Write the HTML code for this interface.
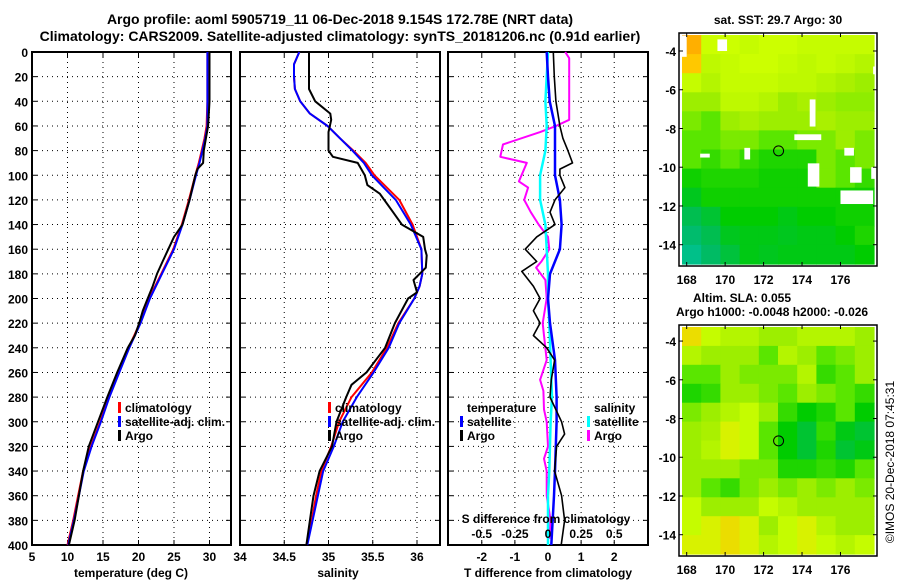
<!DOCTYPE html>
<html><head><meta charset="utf-8"><style>
html,body{margin:0;padding:0;background:#fff;}
svg{display:block;font-family:"Liberation Sans",Arial,sans-serif;font-weight:bold;}
</style></head><body>
<svg id="fig" width="900" height="580" viewBox="0 0 900 580" xmlns="http://www.w3.org/2000/svg">
<text x="340" y="24" font-size="14" text-anchor="middle">Argo profile: aoml 5905719_11 06-Dec-2018 9.154S 172.78E (NRT data)</text>
<text x="340" y="41" font-size="14" text-anchor="middle">Climatology: CARS2009. Satellite-adjusted climatology: synTS_20181206.nc (0.91d earlier)</text>
<g id="plots"></g>
<text x="778" y="24" font-size="12" text-anchor="middle">sat. SST: 29.7 Argo: 30</text>
<text x="693" y="302" font-size="12">Altim. SLA: 0.055</text>
<text x="676" y="316" font-size="12">Argo h1000: -0.0048 h2000: -0.026</text>
<text transform="translate(894,462) rotate(-90)" font-size="12" font-weight="normal" text-anchor="middle">©IMOS 20-Dec-2018 07:45:31</text>
</svg>
<script>
// ---- profile data ----
const depthT = [0,20,40,60,70,80,90,100,120,140,160,180,200,220,240,260,280,300,320,340,360,380,400];
const climT = [29.7,29.7,29.7,29.6,29.3,28.9,28.5,28.0,27.1,26.1,24.9,23.2,21.5,20.2,18.6,17.2,15.8,14.6,13.3,12.2,11.5,10.8,10.0];
const satT = [29.7,29.7,29.7,29.7,29.4,29.0,28.6,28.1,27.2,26.2,25.0,23.3,21.6,20.3,18.7,17.3,15.9,14.7,13.4,12.3,11.6,10.9,10.1];
const argoTDepth = [0,20,40,60,70,80,90,95,100,120,140,150,160,170,180,190,200,210,220,230,240,260,280,300,320,340,360,380,400];
const argoT = [30.0,30.0,30.0,29.8,29.5,29.2,29.1,28.3,28.0,27.2,26.2,25.0,24.2,23.4,22.6,22.0,21.3,20.6,20.1,19.5,18.5,17.0,15.6,14.3,13.0,12.2,11.6,11.0,10.2];
const salDepth = [0,10,20,30,40,50,60,70,80,90,100,120,140,160,180,190,200,220,240,260,280,300,320,340,360,380,400];
const climS = [34.67,34.61,34.61,34.62,34.68,34.79,34.99,35.13,35.28,35.42,35.52,35.80,35.95,36.05,36.06,36.03,35.97,35.79,35.66,35.49,35.26,35.12,35.03,34.92,34.86,34.81,34.75];
const satS = [34.67,34.61,34.61,34.62,34.68,34.79,34.99,35.13,35.27,35.40,35.49,35.76,35.93,36.05,36.06,36.03,35.97,35.80,35.68,35.51,35.32,35.16,35.06,34.94,34.88,34.82,34.76];
const argoSDepth = [0,30,40,50,55,65,80,85,90,100,108,115,130,140,150,160,165,175,185,195,200,220,240,260,270,280,300,320,340,360,380,400];
const argoS = [34.78,34.78,34.85,35.02,35.03,35.0,35.0,35.05,35.33,35.41,35.44,35.58,35.73,35.83,36.07,36.09,36.11,36.1,35.96,36.0,35.9,35.75,35.64,35.43,35.26,35.2,35.09,35.04,34.9,34.83,34.79,34.75];
const diffDepth = [0,20,40,60,70,80,90,95,100,110,120,130,140,150,160,170,178,190,200,210,220,230,240,250,266,280,300,310,320,340,360,380,400];
const argoTdiff = [0.16,0.19,0.24,0.36,0.45,0.6,0.74,0.36,0.36,0.51,0.21,0.06,0.21,-0.34,-0.69,-0.34,-0.79,-0.44,-0.24,-0.44,-0.24,-0.44,-0.04,0.2,0.1,0.06,0.41,0.5,0.26,0.2,0.41,0.5,0.4];
const sdiffDepth = [0,5,10,55,60,65,75,85,90,100,105,110,120,130,140,150,160,170,175,185,200,220,230,250,266,275,290,300,320,330,340,360,380,395];
const argoSdiff = [0.13,0.16,0.16,0.16,0.06,-0.06,-0.34,-0.36,-0.16,-0.2,-0.22,-0.15,-0.18,-0.13,-0.07,0,0.01,-0.05,-0.09,-0.02,-0.01,-0.04,-0.03,-0.01,-0.06,-0.035,-0.03,-0.01,0,-0.03,-0.01,-0.01,0.02,0.01];
const satDiffDepth = [0,20,40,60,80,100,120,140,160,180,200,220,250,280,300,340,360,400];
const satTdiff = [-0.04,0,0.05,0.21,0.21,0.21,0.36,0.41,0.36,0.06,0,0.06,0.21,0.26,0.26,0.21,0.18,0.1];
const satSdiff = [0,-0.01,-0.02,-0.01,-0.02,-0.06,-0.06,-0.02,-0.01,0,0,0.01,0.02,0.03,0.02,0.01,0,0];
const depthTicks = [0,20,40,60,80,100,120,140,160,180,200,220,240,260,280,300,320,340,360,380,400];
const tempTicks = [5,10,15,20,25,30];
const salTicks = [34,34.5,35,35.5,36];
const tdiffTicks = [-2,-1,0,1,2];
const sdiffTicks = [-0.5,-0.25,0,0.25,0.5];
const sdiffTickLabels = ["-0.5","-0.25","0","0.25","0.5"];

// ---- map data (values 0..1, null = missing) ----
const sstGrid = [
[0.9,0.72,0.72,0.7,0.72,0.72,0.7,0.7,0.7,0.7],
[0.85,0.68,0.7,0.72,0.72,0.7,0.68,0.7,0.68,0.65],
[0.7,0.65,0.7,0.7,0.7,0.68,0.68,0.65,0.62,0.6],
[0.6,0.6,0.68,0.68,0.65,0.6,0.62,0.6,0.58,0.58],
[0.55,0.5,0.6,0.62,0.6,0.6,0.6,0.62,0.6,0.6],
[0.5,0.5,0.55,0.55,0.5,0.5,0.55,0.55,0.6,0.55],
[0.5,0.45,0.5,0.45,0.42,0.42,0.42,0.55,0.5,0.55],
[0.4,0.42,0.42,0.42,0.4,0.4,0.4,0.55,0.5,0.45],
[0.35,0.4,0.4,0.4,0.4,0.4,0.4,0.4,0.4,0.4],
[0.3,0.33,0.38,0.38,0.38,0.36,0.38,0.38,0.4,0.4],
[0.27,0.3,0.35,0.36,0.36,0.35,0.36,0.36,0.38,0.42],
[0.24,0.28,0.32,0.36,0.35,0.36,0.36,0.36,0.36,0.38]];
const sstMissing = [[167.7,-3.2,168.0,-4.3],[169.6,-3.4,170.1,-4.0],[174.4,-6.5,174.7,-7.9],[173.6,-8.3,175.0,-8.6],[174.3,-9.8,174.9,-11.0],[176.5,-10.0,177.1,-10.8],[176.0,-11.2,177.7,-11.9],[168.7,-9.3,169.2,-9.5],[171.0,-9.0,171.3,-9.6],[177.6,-10.0,177.9,-10.6],[176.2,-9.0,176.7,-9.4],[177.7,-4.8,177.9,-5.2]];
const slaGrid = [
[0.8,0.7,0.65,0.65,0.6,0.6,0.65,0.65,0.65,0.6],
[0.65,0.6,0.6,0.6,0.5,0.65,0.6,0.5,0.55,0.6],
[0.5,0.5,0.6,0.55,0.55,0.55,0.65,0.45,0.5,0.6],
[0.42,0.45,0.6,0.6,0.55,0.5,0.6,0.55,0.5,0.45],
[0.55,0.6,0.65,0.7,0.6,0.45,0.38,0.42,0.5,0.38],
[0.6,0.62,0.75,0.7,0.5,0.38,0.33,0.45,0.36,0.33],
[0.6,0.65,0.75,0.7,0.5,0.38,0.33,0.42,0.33,0.36],
[0.6,0.6,0.6,0.55,0.55,0.42,0.42,0.45,0.42,0.5],
[0.6,0.5,0.45,0.55,0.6,0.55,0.6,0.55,0.6,0.55],
[0.7,0.6,0.6,0.6,0.7,0.65,0.6,0.6,0.6,0.6],
[0.7,0.75,0.8,0.75,0.6,0.7,0.75,0.65,0.6,0.6],
[0.75,0.75,0.8,0.75,0.65,0.7,0.75,0.7,0.65,0.7]];
const mapLonTicks = [168,170,172,174,176];
const mapLatTicks = [-4,-6,-8,-10,-12,-14];
const argoLon = 172.78, argoLat = -9.154;

const NS = "http://www.w3.org/2000/svg";
const root = document.getElementById('plots');
function mk(tag, attrs, parent){const e=document.createElementNS(NS,tag);for(const k in attrs)e.setAttribute(k,attrs[k]);(parent||root).appendChild(e);return e;}

const TOP=52, BOT=545;
const yD = d => TOP + d*(BOT-TOP)/400;
const panels = [
 {name:'temperature', x0:32, x1:231, v0:5, v1:33.03},
 {name:'salinity', x0:240, x1:440, v0:34, v1:36.26},
 {name:'difference', x0:448, x1:648, v0:-3.02, v1:3.02}
];
const sx = (p,v) => p.x0 + (v-p.v0)*(p.x1-p.x0)/(p.v1-p.v0);
const sxS = v => sx(panels[2], v*4);

function frame(p, gridVals){
  const g = mk('g',{});
  
  
  depthTicks.forEach(d=>{ if(d>0&&d<400){
    const l=mk('line',{x1:p.x0,x2:p.x1,y1:yD(d),y2:yD(d),stroke:'#000','stroke-width':1,'stroke-dasharray':'1 4'},g);
    
    
    mk('line',{x1:p.x0,x2:p.x0+5,y1:yD(d),y2:yD(d),stroke:'#000'},g);
    mk('line',{x1:p.x1-5,x2:p.x1,y1:yD(d),y2:yD(d),stroke:'#000'},g);
  }});
  gridVals.forEach(v=>{const x=sx(p,v); if(x>p.x0+1&&x<p.x1-1){
    const l=mk('line',{x1:x,x2:x,y1:TOP,y2:BOT,stroke:'#000','stroke-width':1,'stroke-dasharray':'1 4'},g);
    
    
    mk('line',{x1:x,x2:x,y1:BOT-5,y2:BOT,stroke:'#000'},g);
    mk('line',{x1:x,x2:x,y1:TOP,y2:TOP+5,stroke:'#000'},g);
  }});
  const r=mk('rect',{x:p.x0,y:TOP,width:p.x1-p.x0,height:BOT-TOP,fill:'none',stroke:'#000','stroke-width':2},g);
  
  
  return g;
}
function line(depths, vals, xf, color, name, w){
  const pts = depths.map((d,i)=>xf(vals[i]).toFixed(1)+','+yD(d).toFixed(1)).join(' ');
  const e = mk('polyline',{points:pts,fill:'none',stroke:color,'stroke-width':w||2,'stroke-linejoin':'round'});
  
  
}
function text(x,y,s,size,anchor,name){
  const t=mk('text',{x:x,y:y,'font-size':size||12,'text-anchor':anchor||'start'});
  t.textContent=s;
  
  
  return t;
}
function legendItem(x,y,color,label,name){
  mk('rect',{x:x,y:y-10,width:3,height:11,fill:color});
  text(x+7,y,label,12,'start',name);
}

// depth labels
depthTicks.forEach(d=>text(28,yD(d)+5,String(d),12,'end','depth-tick-label'));

// Panel 1
const p1=panels[0]; frame(p1,tempTicks);
line(depthT, climT, v=>sx(p1,v), '#ff0000','climatology-temperature-line');
line(depthT, satT, v=>sx(p1,v), '#0000ff','satellite-temperature-line');
line(argoTDepth, argoT, v=>sx(p1,v), '#000000','argo-temperature-line');
tempTicks.forEach(v=>text(sx(p1,v),561,String(v),12,'middle','temperature-tick-label'));
text(131,577,'temperature (deg C)',12,'middle','temperature-axis-title');
legendItem(118,412,'#ff0000','climatology','legend-climatology');
legendItem(118,426,'#0000ff','satellite-adj. clim.','legend-satellite-adj');
legendItem(118,440,'#000000','Argo','legend-argo');

// Panel 2
const p2=panels[1]; frame(p2,salTicks);
line(salDepth, climS, v=>sx(p2,v), '#ff0000','climatology-salinity-line');
line(salDepth, satS, v=>sx(p2,v), '#0000ff','satellite-salinity-line');
line(argoSDepth, argoS, v=>sx(p2,v), '#000000','argo-salinity-line');
salTicks.forEach(v=>text(sx(p2,v),561,String(v),12,'middle','salinity-tick-label'));
text(338,577,'salinity',12,'middle','salinity-axis-title');
legendItem(328,412,'#ff0000','climatology','legend-climatology-2');
legendItem(328,426,'#0000ff','satellite-adj. clim.','legend-satellite-adj-2');
legendItem(328,440,'#000000','Argo','legend-argo-2');

// Panel 3
const p3=panels[2]; frame(p3,tdiffTicks);
line(sdiffDepth, argoSdiff, sxS, '#ff00ff','argo-salinity-diff-line');
line(satDiffDepth, satSdiff, sxS, '#00ffff','satellite-salinity-diff-line',2.5);
line(satDiffDepth, satTdiff, v=>sx(p3,v), '#0000ff','satellite-temperature-diff-line',2.5);
line(diffDepth, argoTdiff, v=>sx(p3,v), '#000000','argo-temperature-diff-line',1.6);
tdiffTicks.forEach(v=>text(sx(p3,v),561,String(v),12,'middle','tdiff-tick-label'));
sdiffTicks.forEach((v,i)=>text(sxS(v),538,sdiffTickLabels[i],12,'middle','sdiff-tick-label'));
text(546,523,'S difference from climatology',12,'middle','sdiff-axis-title');
text(548,577,'T difference from climatology',12,'middle','tdiff-axis-title');
text(467,412,'temperature',12,'start','legend-temperature-header');
legendItem(460,426,'#0000ff','satellite','legend-temp-satellite');
legendItem(460,440,'#000000','Argo','legend-temp-argo');
text(594,412,'salinity',12,'start','legend-salinity-header');
legendItem(587,426,'#00ffff','satellite','legend-sal-satellite');
legendItem(587,440,'#ff00ff','Argo','legend-sal-argo');

// ---- maps ----
const cstops=[[0,[34,68,221]],[0.15,[0,204,221]],[0.28,[0,187,100]],[0.38,[0,204,0]],[0.5,[90,230,0]],[0.62,[170,240,0]],[0.72,[204,255,0]],[0.85,[255,200,0]],[0.95,[255,150,0]]];
function cmap(v){
  if(v<=cstops[0][0])return 'rgb('+cstops[0][1]+')';
  for(let i=1;i<cstops.length;i++){if(v<=cstops[i][0]){const a=cstops[i-1],b=cstops[i],t=(v-a[0])/(b[0]-a[0]);
    return 'rgb('+a[1].map((c,k)=>Math.round(c+(b[1][k]-c)*t)).join(',')+')';}}
  return 'rgb('+cstops[cstops.length-1][1]+')';
}
function drawMap(name, fx0,fx1,fy0,fy1, lat0,lat1, grid, missing){
  const lon0=167.6, lon1=177.9;
  const mx = lon => fx0+(lon-lon0)*(fx1-fx0)/(lon1-lon0);
  const my = lat => fy0+(lat0-lat)*(fy1-fy0)/(lat0-lat1);
  const g=mk('g',{});
  
  
  const dx0=fx0+3, dx1=fx1-3, dy0=fy0+2, dy1=fy1-2;
  const rows=grid.length, cols=grid[0].length;
  const cw=(dx1-dx0)/cols, ch=(dy1-dy0)/rows;
  grid.forEach((row,r)=>row.forEach((v,c)=>{
    if(v===null)return;
    const cell=mk('rect',{x:(dx0+c*cw).toFixed(1),y:(dy0+r*ch).toFixed(1),width:(cw+0.6).toFixed(1),height:(ch+0.6).toFixed(1),fill:cmap(v)},g);
    
    
  }));
  (missing||[]).forEach(m=>{
    const w=mk('rect',{x:mx(m[0]),y:my(m[1]),width:mx(m[2])-mx(m[0]),height:my(m[3])-my(m[1]),fill:'#fff'},g);
    
    
  });
  const f=mk('rect',{x:fx0,y:fy0,width:fx1-fx0,height:fy1-fy0,fill:'none',stroke:'#000','stroke-width':1.5},g);
  
  
  mapLonTicks.forEach(l=>{const x=mx(l);
    mk('line',{x1:x,x2:x,y1:fy1,y2:fy1-4,stroke:'#000'},g);
    mk('line',{x1:x,x2:x,y1:fy0,y2:fy0+4,stroke:'#000'},g);
    text(x,fy1+18,String(l),12,'middle','map-lon-label');});
  mapLatTicks.forEach(l=>{const y=my(l);
    mk('line',{x1:fx0,x2:fx0+4,y1:y,y2:y,stroke:'#000'},g);
    mk('line',{x1:fx1,x2:fx1-4,y1:y,y2:y,stroke:'#000'},g);
    text(fx0-3,y+5,String(l),12,'end','map-lat-label');});
  const c=mk('circle',{cx:mx(argoLon),cy:my(argoLat),r:5,fill:'none',stroke:'#000','stroke-width':1},g);
  
  
}
drawMap('sst-map',679,877,33,266,-3.07,-15.1,sstGrid,sstMissing);
drawMap('sla-map',679,877,325,556,-3.17,-15.1,slaGrid,[]);
</script>
</body></html>
